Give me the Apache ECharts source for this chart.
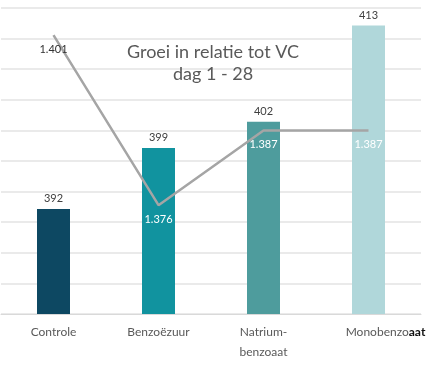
<!DOCTYPE html>
<html><head><meta charset="utf-8">
<script src="https://cdn.jsdelivr.net/npm/echarts@6/dist/echarts.min.js"></script>
<style>html,body{margin:0;padding:0;background:#fff}#c{width:446px;height:369px}</style>
</head><body><div id="c"></div>
<script>
const categories = ['Controle', 'Benzoëzuur', 'Natrium-\nbenzoaat', 'Monobenzoaat'];
const barValues = [392, 399, 402, 413];
const lineValues = [1.401, 1.376, 1.387, 1.387];
const barColors = ['#0D4862', '#11939F', '#4E9C9D', '#B0D7DA'];
const lineLabelColors = ['#333333', '#ffffff', '#ffffff', '#ffffff'];
const titleLines = ['Groei in relatie tot VC', 'dag 1 - 28'];

const FONT = 'Lato';
const chart = echarts.init(document.getElementById('c'));
chart.setOption({
  animation: false,
  title: {
    text: titleLines.join('\n'),
    left: 208, top: 36, textAlign: 'center',
    textStyle: {fontFamily: FONT, fontSize: 18, fontWeight: 'normal', color: '#595959', lineHeight: 22}
  },
  grid: {left: 1, right: 25, top: 8, bottom: 55, containLabel: false},
  xAxis: {
    type: 'category',
    data: categories,
    axisTick: {show: false},
    axisLine: {lineStyle: {color: '#D9D9D9', width: 1}},
    axisLabel: {
      interval: 0,
      fontFamily: FONT, fontSize: 12, color: '#595959', margin: 8, lineHeight: 20,
      formatter: v => v === 'Monobenzoaat' ? '{p|}Monobenzo{b|aat}' : v,
      rich: {
        b: {fontFamily: FONT, fontSize: 12, color: '#111', fontWeight: 'bold'},
        p: {width: 34}
      }
    }
  },
  yAxis: [
    {type: 'value', min: 380, max: 415, show: false, splitLine: {show: false}},
    {type: 'value', min: 1.360, max: 1.405, show: false, splitLine: {show: false}},
    {type: 'value', min: 0, max: 10, interval: 1, axisLabel: {show: false}, axisLine: {show: false}, axisTick: {show: false},
     splitLine: {show: true, lineStyle: {color: '#E3E3E3', width: 1.5}}}
  ],
  series: [
    {
      type: 'bar', yAxisIndex: 0, barWidth: 33,
      data: barValues.map((v, i) => ({value: v, itemStyle: {color: barColors[i]}})),
      label: {show: true, position: 'top', distance: 5, fontFamily: FONT, fontSize: 11, color: '#404040'}
    },
    {
      type: 'line', yAxisIndex: 1, symbol: 'circle', symbolSize: 1, showSymbol: true, z: 5,
      itemStyle: {color: 'rgba(0,0,0,0)'},
      lineStyle: {color: '#A5A5A5', width: 2.5},
      data: lineValues.map((v, i) => ({value: v, label: {color: lineLabelColors[i]}})),
      label: {show: true, position: 'bottom', distance: 8, fontFamily: FONT, fontSize: 11,
        formatter: p => Number(p.data.value).toFixed(3)}
    }
  ]
});
</script></body></html>
